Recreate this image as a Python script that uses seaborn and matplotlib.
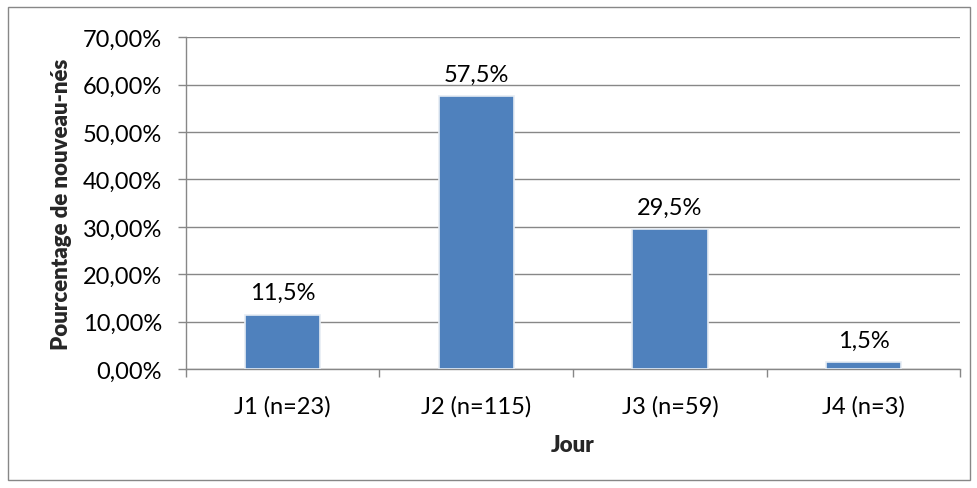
import matplotlib

matplotlib.use("Agg")
import matplotlib.pyplot as plt
import pandas as pd
import seaborn as sns
from matplotlib.patches import Rectangle
from matplotlib.ticker import FixedLocator, FuncFormatter

categories = ["J1 (n=23)", "J2 (n=115)", "J3 (n=59)", "J4 (n=3)"]
percentages = [11.5, 57.5, 29.5, 1.5]
bar_labels = ["11,5%", "57,5%", "29,5%", "1,5%"]
y_ticks = [0, 10, 20, 30, 40, 50, 60, 70]

sns.set_theme(style="white")
plt.rcParams["font.family"] = ["Lato", "DejaVu Sans"]

frame = pd.DataFrame({"jour": categories, "pct": percentages})

fig = plt.figure(figsize=(9.78, 4.89), dpi=100)
ax = fig.add_axes([0.190, 0.243, 0.792, 0.679])
sns.barplot(data=frame, x="jour", y="pct", color="#4f81bd", saturation=1, width=0.39,
            edgecolor="#e6ecf4", linewidth=1.2, ax=ax, zorder=3)

ax.set_ylim(0, 70)
ax.set_xlim(-0.5, len(categories) - 0.5)
ax.yaxis.set_major_locator(FixedLocator(y_ticks))
ax.yaxis.set_major_formatter(FuncFormatter(lambda v, _: f"{v:.2f}%".replace(".", ",")))
ax.grid(axis="y", color="#878787", linewidth=1.0, zorder=0)
ax.set_axisbelow(True)

for spine in ["top", "right"]:
    ax.spines[spine].set_visible(False)
for spine in ["left", "bottom"]:
    ax.spines[spine].set_color("#878787")
    ax.spines[spine].set_linewidth(1.0)

ax.xaxis.set_minor_locator(FixedLocator([i - 0.5 for i in range(len(categories) + 1)]))
ax.tick_params(axis="x", which="major", length=0, labelsize=17, pad=19, colors="black")
ax.tick_params(axis="x", which="minor", length=6, width=1.0, color="#878787", direction="out", bottom=True)
ax.tick_params(axis="y", length=6, width=1.0, color="#878787", direction="out", left=True,
               labelsize=17, pad=11, labelcolor="black")

for i, (val, lab) in enumerate(zip(percentages, bar_labels)):
    ax.text(i, val + 2.4, lab, ha="center", va="bottom", fontsize=17, color="black")

ax.set_xlabel("Jour", fontsize=16, fontweight="heavy", labelpad=12)
ax.set_ylabel("Pourcentage de nouveau-nés", fontsize=16, fontweight="heavy", labelpad=8)

fig.patches.append(Rectangle((8 / 978, 8 / 489), 962 / 978, 473 / 489, transform=fig.transFigure,
                             fill=False, edgecolor="#878787", linewidth=1.0))

fig.savefig("out.png", dpi=100)
plt.close(fig)
